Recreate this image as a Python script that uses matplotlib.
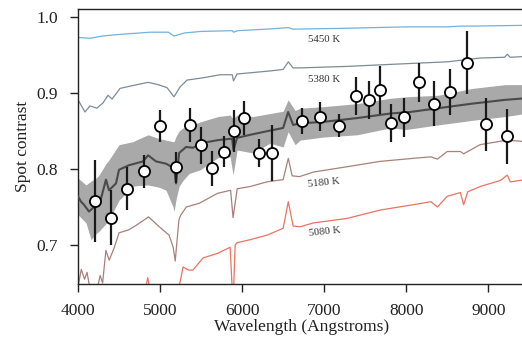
import matplotlib
matplotlib.use("Agg")
import matplotlib.pyplot as plt
import numpy as np

plt.rcParams['font.family'] = ['Liberation Serif', 'DejaVu Serif']

# ---- observed spot contrast points ----
obs_wl = [4204, 4399, 4601, 4801, 5000, 5199, 5366, 5496, 5638, 5780, 5902, 6028,
          6207, 6362, 6728, 6951, 7179, 7390, 7549, 7683, 7813, 7976, 8150, 8341,
          8537, 8740, 8976, 9228]
obs_val = [0.758, 0.736, 0.774, 0.797, 0.857, 0.802, 0.858, 0.831, 0.801, 0.823, 0.850, 0.867,
           0.821, 0.821, 0.863, 0.869, 0.857, 0.896, 0.891, 0.904, 0.860, 0.868, 0.914, 0.886,
           0.901, 0.940, 0.859, 0.843]
obs_err = [0.054, 0.036, 0.028, 0.022, 0.021, 0.021, 0.022, 0.024, 0.023, 0.020, 0.027, 0.022,
           0.019, 0.037, 0.017, 0.019, 0.015, 0.025, 0.025, 0.031, 0.025, 0.026, 0.026, 0.030,
           0.030, 0.041, 0.035, 0.036]

# ---- model: 5450 K ----
m5450_wl = [4000, 4150, 4300, 4500, 4880, 5100, 5170, 5300, 5500, 5880, 5895, 5950,
            6300, 6563, 6620, 7200, 8000, 8500, 8660, 8800, 9450]
m5450_val = [0.973, 0.972, 0.975, 0.977, 0.980, 0.980, 0.975, 0.979, 0.981, 0.982, 0.980, 0.982,
             0.984, 0.986, 0.984, 0.985, 0.987, 0.987, 0.988, 0.988, 0.989]

# ---- model: 5380 K ----
m5380_wl = [4000, 4085, 4146, 4230, 4305, 4366, 4415, 4512, 4634, 4854, 4976, 5085,
            5170, 5244, 5329, 5524, 5732, 5880, 5895, 5939, 6341, 6500, 6563, 6622,
            6707, 7280, 8085, 8500, 8902, 9200, 9232, 9268, 9450]
m5380_val = [0.891, 0.875, 0.883, 0.880, 0.887, 0.897, 0.892, 0.906, 0.909, 0.914, 0.911, 0.907,
             0.895, 0.908, 0.917, 0.920, 0.924, 0.924, 0.916, 0.925, 0.929, 0.931, 0.941, 0.933,
             0.933, 0.935, 0.939, 0.941, 0.946, 0.947, 0.951, 0.947, 0.948]

# ---- model: 5180 K ----
m5180_wl = [4000, 4040, 4080, 4110, 4150, 4230, 4270, 4300, 4340, 4380, 4440, 4500,
            4620, 4710, 4860, 4990, 5110, 5160, 5185, 5230, 5250, 5320, 5480, 5700,
            5860, 5890, 5940, 6100, 6300, 6500, 6563, 6610, 6700, 6870, 7280, 7680,
            8085, 8300, 8380, 8500, 8660, 8700, 8900, 9230, 9450]
m5180_val = [0.645, 0.668, 0.655, 0.664, 0.640, 0.640, 0.660, 0.650, 0.693, 0.680, 0.696, 0.716,
             0.720, 0.726, 0.737, 0.724, 0.713, 0.697, 0.679, 0.733, 0.739, 0.750, 0.755, 0.768,
             0.772, 0.736, 0.774, 0.777, 0.783, 0.786, 0.814, 0.791, 0.790, 0.796, 0.803, 0.810,
             0.814, 0.816, 0.813, 0.823, 0.823, 0.820, 0.832, 0.838, 0.836]

# ---- model: 5080 K ----
m5080_wl = [4000, 4800, 4850, 4880, 5100, 5200, 5244, 5280, 5350, 5400, 5524, 5700,
            5854, 5890, 5915, 5939, 6098, 6305, 6500, 6563, 6622, 6707, 6866, 7280,
            7683, 8085, 8300, 8380, 8500, 8660, 8700, 8750, 8902, 9150, 9232, 9268, 9450]
m5080_val = [0.600, 0.630, 0.657, 0.640, 0.630, 0.640, 0.651, 0.671, 0.667, 0.667, 0.683, 0.689,
             0.697, 0.620, 0.700, 0.703, 0.707, 0.713, 0.722, 0.757, 0.725, 0.724, 0.729, 0.735,
             0.746, 0.753, 0.757, 0.750, 0.764, 0.769, 0.753, 0.770, 0.777, 0.785, 0.792, 0.783, 0.786]

# ---- best-fit model (dark line) ----
fit_wl = [4000, 4037, 4073, 4134, 4195, 4280, 4341, 4378, 4463, 4500, 4622, 4793,
          4854, 4951, 5073, 5171, 5195, 5232, 5317, 5400, 5550, 5707, 5878, 5895,
          5939, 6098, 6317, 6500, 6561, 6622, 6707, 6988, 7402, 7805, 8049, 8390,
          8805, 9207, 9450]
fit_val = [0.764, 0.757, 0.753, 0.744, 0.750, 0.761, 0.786, 0.772, 0.781, 0.799, 0.805, 0.810,
           0.818, 0.810, 0.807, 0.801, 0.781, 0.821, 0.829, 0.828, 0.835, 0.838, 0.840, 0.825,
           0.841, 0.845, 0.850, 0.854, 0.875, 0.858, 0.860, 0.862, 0.867, 0.873, 0.875, 0.880,
           0.886, 0.891, 0.893]

# ---- uncertainty band ----
band_wl = [4000, 4098, 4159, 4220, 4256, 4341, 4378, 4500, 4671, 4707, 4854, 4988,
           5073, 5159, 5171, 5195, 5232, 5280, 5354, 5490, 5707, 5854, 5890, 5939,
           6134, 6341, 6500, 6561, 6646, 6707, 6988, 7402, 7805, 8000, 8390, 8805,
           9207, 9450]
band_hi = [0.788, 0.779, 0.784, 0.788, 0.792, 0.807, 0.812, 0.832, 0.836, 0.838, 0.845, 0.840,
           0.838, 0.836, 0.836, 0.843, 0.850, 0.854, 0.856, 0.862, 0.869, 0.871, 0.866, 0.871,
           0.869, 0.873, 0.876, 0.891, 0.877, 0.880, 0.882, 0.886, 0.893, 0.895, 0.897, 0.906,
           0.911, 0.911]
band_lo = [0.740, 0.729, 0.707, 0.715, 0.718, 0.728, 0.733, 0.759, 0.777, 0.778, 0.779, 0.776,
           0.772, 0.750, 0.744, 0.760, 0.777, 0.785, 0.794, 0.799, 0.815, 0.816, 0.792, 0.825,
           0.821, 0.834, 0.829, 0.849, 0.832, 0.838, 0.842, 0.845, 0.854, 0.852, 0.858, 0.864,
           0.869, 0.873]

labels = ["5450 K", "5380 K", "5180 K", "5080 K"]
label_wl = [7000, 7000, 7000, 7000]
label_val = [0.970, 0.918, 0.782, 0.717]
label_rot = [0, 0, 6, 6]

W, H = 522, 341
fig = plt.figure(figsize=(W / 100, H / 100), dpi=100)
ax = fig.add_axes([78 / W, 1 - 284 / H, 448 / W, 275 / H])

ax.fill_between(band_wl, band_lo, band_hi, color='#a9a9a9', lw=0, zorder=1)
ax.plot(m5450_wl, m5450_val, color='#72b2dc', lw=0.9, zorder=2)
ax.plot(m5380_wl, m5380_val, color='#7d8b98', lw=0.9, zorder=2)
ax.plot(m5180_wl, m5180_val, color='#a8817a', lw=0.9, zorder=2)
ax.plot(m5080_wl, m5080_val, color='#ea7462', lw=0.9, zorder=2)
ax.plot(fit_wl, fit_val, color='#4a4a4a', lw=1.5, zorder=3)

ax.errorbar(obs_wl, obs_val, yerr=obs_err, fmt='o', ms=8, mfc='white', mec='black',
            mew=1.3, ecolor='#1a1a1a', elinewidth=1.6, capsize=0, zorder=5)

for t, x, y, r in zip(labels, label_wl, label_val, label_rot):
    ax.text(x, y, t, fontsize=7.8, ha='center', va='center', rotation=r, color='#333333')

ax.set_xlim(4000, 9460)
ax.set_ylim(0.6487, 1.0105)
ax.set_xticks([4000, 5000, 6000, 7000, 8000, 9000])
ax.set_yticks([0.7, 0.8, 0.9, 1.0])
ax.set_yticklabels(['0.7', '0.8', '0.9', '1.0'])
ax.tick_params(direction='out', length=5.5, width=1, labelsize=12.5, colors='#222222')
ax.tick_params(axis='x', pad=8)
ax.tick_params(axis='y', pad=9)
ax.spines['right'].set_visible(False)
for s in ['left', 'bottom', 'top']:
    ax.spines[s].set_linewidth(1.0)
    ax.spines[s].set_color('#222222')
ax.set_xlabel('Wavelength (Angstroms)', fontsize=12.5, labelpad=0, color='#222222')
ax.set_ylabel('Spot contrast', fontsize=12.5, labelpad=4, color='#222222')

fig.savefig('out.png', dpi=100)
